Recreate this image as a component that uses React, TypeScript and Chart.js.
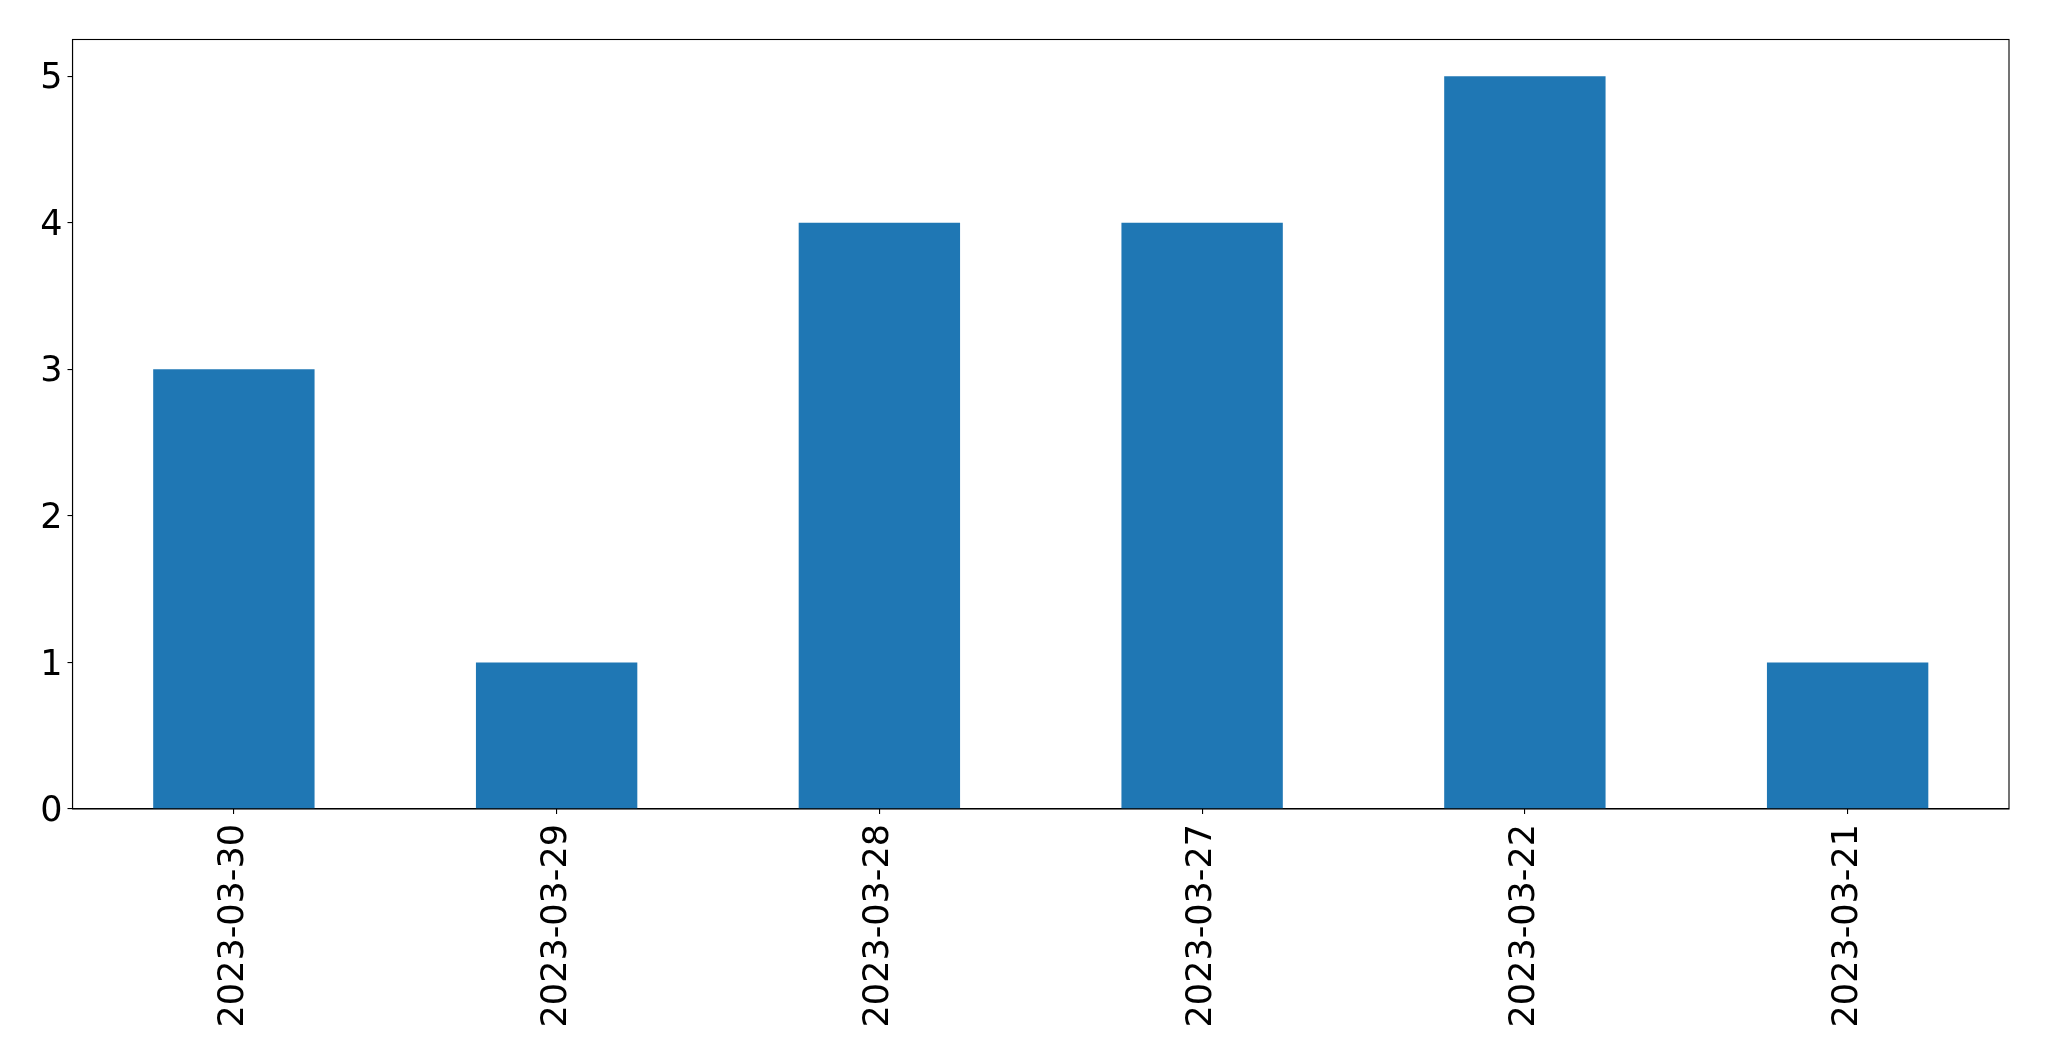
import React, { useEffect, useRef } from "react";
import { Chart, registerables } from "chart.js";

Chart.register(...registerables);

const categories = ["2023-03-30", "2023-03-29", "2023-03-28", "2023-03-27", "2023-03-22", "2023-03-21"];
const counts = [3, 1, 4, 4, 5, 1];
const yTickValues = [0, 1, 2, 3, 4, 5];

const framePlugin = {
  id: "frame",
  afterDraw(chart: any) {
    const { ctx, chartArea } = chart;
    ctx.save();
    ctx.strokeStyle = "#000";
    ctx.lineWidth = 1.1;
    ctx.strokeRect(chartArea.left, chartArea.top, chartArea.right - chartArea.left, chartArea.bottom - chartArea.top);
    ctx.restore();
  },
};

export default function App() {
  const ref = useRef<HTMLCanvasElement | null>(null);
  useEffect(() => {
    document.body.style.margin = "0";
    const font = { family: "'DejaVu Sans'", size: 35 };
    const chart = new Chart(ref.current as HTMLCanvasElement, {
      type: "bar",
      data: {
        labels: categories,
        datasets: [
          {
            data: counts,
            backgroundColor: "#1f77b4",
            barPercentage: 0.5,
            categoryPercentage: 1,
          },
        ],
      },
      options: {
        animation: false,
        responsive: false,
        devicePixelRatio: 1,
        layout: { padding: { top: 39.5, right: 40, left: 0, bottom: 0 } },
        plugins: { legend: { display: false }, tooltip: { enabled: false } },
        scales: {
          x: {
            offset: true,
            grid: { display: true, offset: false, drawOnChartArea: false, drawTicks: true, tickLength: 5, color: "#000", lineWidth: 1.1 },
            border: { display: true, color: "#000", width: 1.1 },
            ticks: { color: "#000", font, minRotation: 90, maxRotation: 90, padding: 10, autoSkip: false },
            afterFit(scale: any) {
              scale.height = 252;
            },
          },
          y: {
            min: 0,
            max: 5.25,
            grid: { display: true, drawOnChartArea: false, drawTicks: true, tickLength: 5, color: "#000", lineWidth: 1.1 },
            border: { display: true, color: "#000", width: 1.1 },
            ticks: { color: "#000", font, padding: 5, labelOffset: 3 },
            afterBuildTicks(scale: any) {
              scale.ticks = yTickValues.map((v) => ({ value: v }));
            },
            afterFit(scale: any) {
              scale.width = 72.5;
            },
          },
        },
      },
      plugins: [framePlugin],
    });
    return () => chart.destroy();
  }, []);
  return <canvas ref={ref} width={2049} height={1061} style={{ display: "block", width: 2049, height: 1061 }} />;
}
